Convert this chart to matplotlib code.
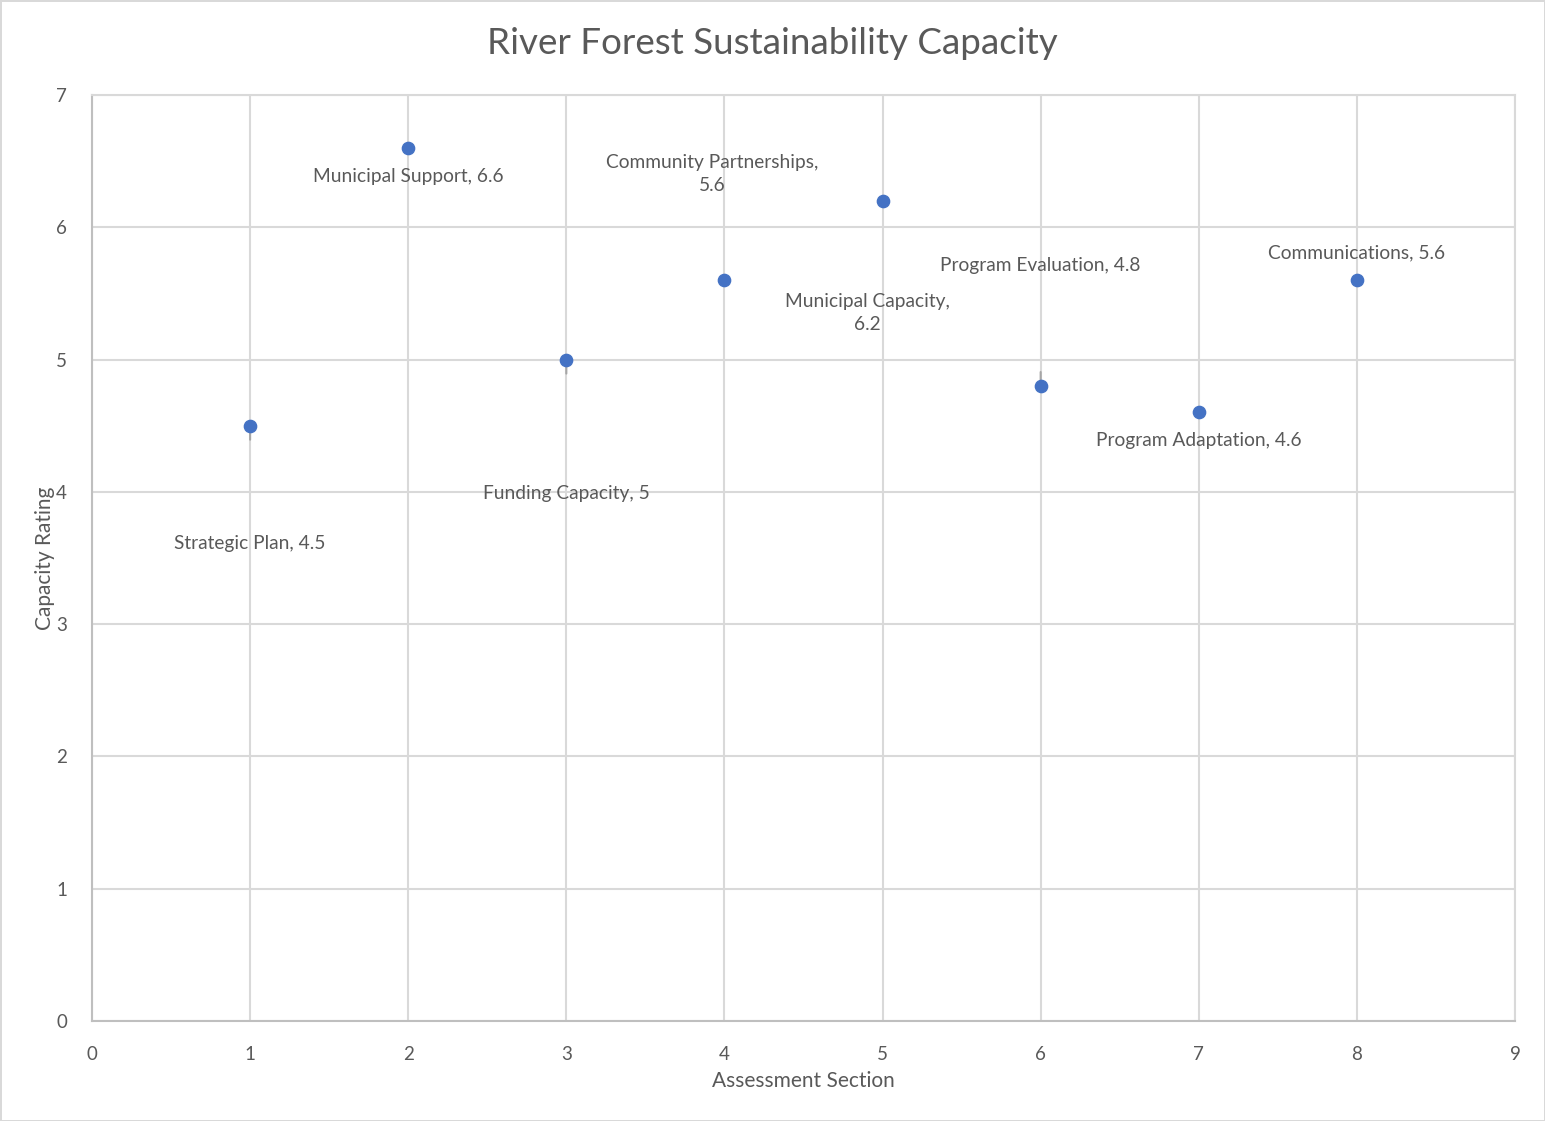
import matplotlib.pyplot as plt

# data
sections = [1, 2, 3, 4, 5, 6, 7, 8]
ratings = [4.5, 6.6, 5.0, 5.6, 6.2, 4.8, 4.6, 5.6]
labels = ['Strategic Plan, 4.5', 'Municipal Support, 6.6', 'Funding Capacity, 5',
          'Community Partnerships,\n5.6', 'Municipal Capacity,\n6.2',
          'Program Evaluation, 4.8', 'Program Adaptation, 4.6', 'Communications, 5.6']

# label offsets in pixels (dx, dy upward), as placed in the original chart
label_offsets = [(0, -118), (0, -29), (0, -134), (-12, 106), (-15, -112),
                 (0, 121), (0, -28), (0, 27)]

plt.rcParams['font.family'] = ['Lato', 'DejaVu Sans']
text_color = '#595959'
grid_color = '#d9d9d9'

fig = plt.figure(figsize=(15.45, 11.21), dpi=100)
fig.patch.set_edgecolor('#d9d9d9')
fig.patch.set_linewidth(2)
ax = fig.add_axes([92 / 1545, 1 - 1021 / 1121, (1515 - 92) / 1545, (1021 - 95) / 1121])

ax.set_xlim(0, 9)
ax.set_ylim(0, 7)
ax.set_xticks(range(0, 10))
ax.set_yticks(range(0, 8))
ax.grid(True, color=grid_color, linewidth=1.5)
ax.set_axisbelow(True)
for side in ['top', 'right']:
    ax.spines[side].set_color(grid_color)
    ax.spines[side].set_linewidth(1.5)
for side in ['left', 'bottom']:
    ax.spines[side].set_color('#bfbfbf')
    ax.spines[side].set_linewidth(1.5)
ax.tick_params(length=0, labelsize=13.5, labelcolor=text_color)
ax.tick_params(axis='x', pad=18)
ax.tick_params(axis='y', pad=18)

# short leader stubs where the label sits far from its point
for x, y, (dx, dy) in zip(sections, ratings, label_offsets):
    if dx == 0 and abs(dy) > 100:
        ax.annotate('', xy=(x, y), xytext=(0, 14 if dy > 0 else -14),
                    textcoords='offset pixels',
                    arrowprops=dict(arrowstyle='-', color='#a6a6a6', lw=1.5,
                                    shrinkA=0, shrinkB=0), zorder=2)

ax.scatter(sections, ratings, s=78, color='#4472c4', zorder=3)

for x, y, lab, (dx, dy) in zip(sections, ratings, labels, label_offsets):
    ax.annotate(lab, xy=(x, y), xytext=(dx, dy), textcoords='offset pixels',
                ha='center', va='center', fontsize=13.8, color=text_color,
                multialignment='center', linespacing=1.45)

ax.set_xlabel('Assessment Section', fontsize=15, color=text_color, labelpad=6)
ax.set_ylabel('Capacity Rating', fontsize=15, color=text_color, labelpad=1)
fig.text(0.5, 1 - 44 / 1121, 'River Forest Sustainability Capacity',
         ha='center', va='center', fontsize=26.5, color=text_color)

fig.savefig('out.png', dpi=100)
